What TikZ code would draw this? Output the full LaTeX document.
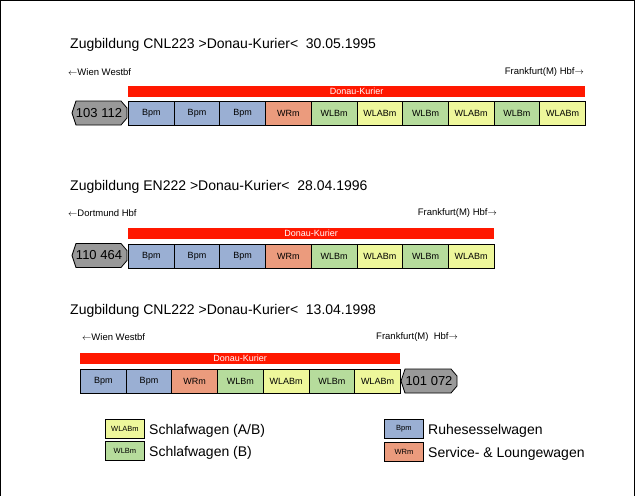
\documentclass[tikz,border=0pt]{standalone}
\usepackage{fontspec}
\setmainfont{Liberation Sans}
\definecolor{cB}{HTML}{9AAFD3}
\definecolor{cR}{HTML}{EB9B7D}
\definecolor{cLB}{HTML}{B6DC9C}
\definecolor{cLAB}{HTML}{EEF79B}
\definecolor{cRed}{HTML}{FF1800}
\definecolor{cLoco}{HTML}{999999}
\newcommand{\fsz}[1]{\fontsize{#1}{#1}\selectfont}
\newcommand{\larr}{\mbox{$\leftarrow$}}
\newcommand{\rarr}{\mbox{$\rightarrow$}}
\begin{document}
\begin{tikzpicture}[x=1pt,y=-1pt,
  car/.style={draw=black,line width=0.9pt,minimum width=45.7,minimum height=24,inner sep=0pt,anchor=north west,font=\fsz{9}},
  redbar/.style={fill=cRed,inner sep=0pt,minimum height=11,anchor=north west,text=white,font=\fsz{9}},
  title/.style={anchor=base west,inner sep=0pt,font=\fsz{14}},
  dest/.style={inner sep=0pt,font=\fsz{9.5}},
  lococ/.style={fill=cLoco,draw=black,line width=0.8pt},
  locot/.style={inner sep=0pt,font=\fsz{13}},
  legbox/.style={draw=black,line width=0.9pt,minimum width=39,minimum height=19,inner sep=0pt,anchor=north west,font=\fsz{7.5}},
  legtxt/.style={anchor=west,inner sep=0pt,font=\fsz{14}}]
\useasboundingbox (0,0) rectangle (635,496);
\fill[white] (0,0) rectangle (635,496);
\draw[line width=2pt] (0,496) -- (0,0) -- (635,0) -- (635,496);

% ---------- Train 1 ----------
\node[title] (title1) at (70,48.5) {Zugbildung CNL223 >Donau-Kurier<\ \ 30.05.1995};
\node[dest,anchor=west] (from1) at (68,72) {\larr Wien Westbf};
\node[dest,anchor=east] (to1) at (584,72) {Frankfurt(M) Hbf\rarr};
\node[redbar,minimum width=457] (bar1) at (128,86) {Donau-Kurier};
\foreach \lab/\col [count=\i] in {Bpm/cB,Bpm/cB,Bpm/cB,WRm/cR,WLBm/cLB,WLABm/cLAB,WLBm/cLB,WLABm/cLAB,WLBm/cLB,WLABm/cLAB}
  \node[car,fill=\col] (t1c\i) at ({128+(\i-1)*45.7},101) {\lab};
\draw[lococ] (76,101) -- (121,101) -- (127,108) -- (127,118) -- (121,125) -- (76,125) -- (72,113) -- cycle;
\node[locot] (loco1) at (99,113) {103 112};

% ---------- Train 2 ----------
\node[title] (title2) at (70,190.5) {Zugbildung EN222 >Donau-Kurier<\ \ 28.04.1996};
\node[dest,anchor=west] (from2) at (68,213) {\larr Dortmund Hbf};
\node[dest,anchor=east] (to2) at (497,213) {Frankfurt(M) Hbf\rarr};
\node[redbar,minimum width=366] (bar2) at (128,228) {Donau-Kurier};
\foreach \lab/\col [count=\i] in {Bpm/cB,Bpm/cB,Bpm/cB,WRm/cR,WLBm/cLB,WLABm/cLAB,WLBm/cLB,WLABm/cLAB}
  \node[car,fill=\col] (t2c\i) at ({128+(\i-1)*45.7},243.5) {\lab};
\draw[lococ] (76,243.5) -- (121,243.5) -- (127,250.5) -- (127,260.5) -- (121,267.5) -- (76,267.5) -- (72,255.5) -- cycle;
\node[locot] (loco2) at (99,255.5) {110 464};

% ---------- Train 3 ----------
\node[title] (title3) at (70,314.5) {Zugbildung CNL222 >Donau-Kurier<\ \ 13.04.1998};
\node[dest,anchor=west] (from3) at (82,337) {\larr Wien Westbf};
\node[dest,anchor=east] (to3) at (458,337) {Frankfurt(M)\ \ Hbf\rarr};
\node[redbar,minimum width=320] (bar3) at (80,353) {Donau-Kurier};
\foreach \lab/\col [count=\i] in {Bpm/cB,Bpm/cB,WRm/cR,WLBm/cLB,WLABm/cLAB,WLBm/cLB,WLABm/cLAB}
  \node[car,fill=\col] (t3c\i) at ({80+(\i-1)*45.7},369) {\lab};
\draw[lococ] (405,369) -- (451,369) -- (457,376) -- (457,386) -- (451,393) -- (405,393) -- (401,381) -- cycle;
\node[locot] (loco3) at (429,381) {101 072};

% ---------- Legend ----------
\node[legbox,fill=cLAB] (lg1) at (105,419) {WLABm};
\node[legtxt] (lt1) at (149,430.5) {Schlafwagen (A/B)};
\node[legbox,fill=cLB] (lg2) at (105,441) {WLBm};
\node[legtxt] (lt2) at (149,452.5) {Schlafwagen (B)};
\node[legbox,fill=cB] (lg3) at (384,419) {Bpm};
\node[legtxt] (lt3) at (428,431) {Ruhesesselwagen};
\node[legbox,fill=cR] (lg4) at (384,442) {WRm};
\node[legtxt] (lt4) at (428,454) {Service- \& Loungewagen};
\end{tikzpicture}
\end{document}
